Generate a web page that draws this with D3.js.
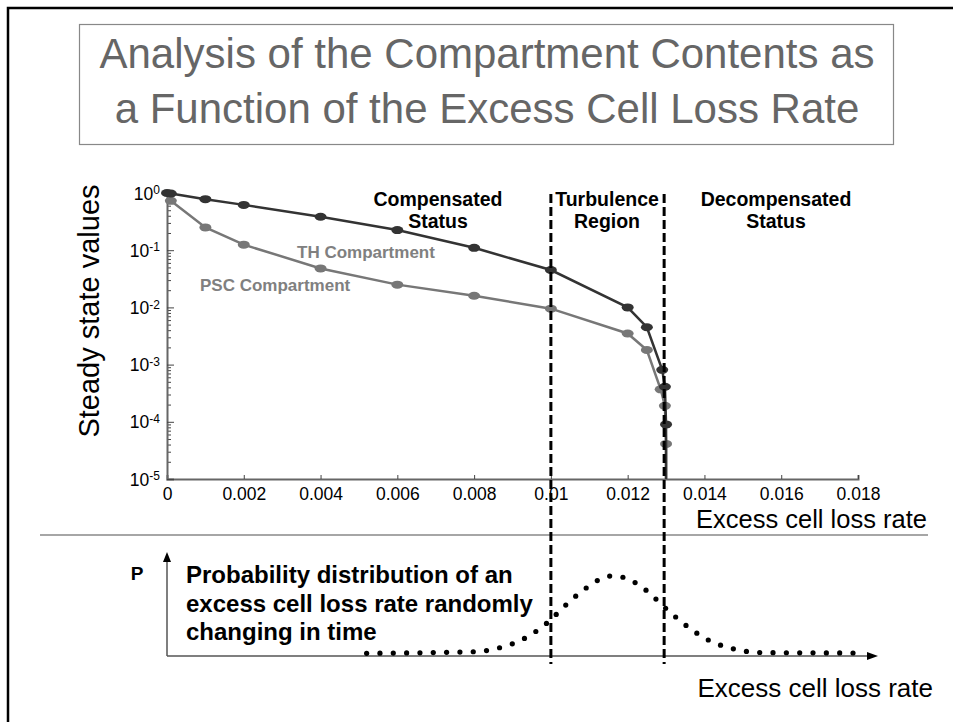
<!DOCTYPE html>
<html>
  <head>
    <title>Compartment Contents</title>
    <script src="https://d3js.org/d3.v7.min.js"></script>
    <style>
      body { margin: 0; background: #fff; }
      text { font-family: Arial, "Liberation Sans", sans-serif; }
      .bold { font-weight: bold; }
    </style>
  </head>
  <body>
    <svg id="main" width="953" height="722"></svg>
    <script>

      // axis ticks
      var xTicks = [0, 0.002, 0.004, 0.006, 0.008, 0.01, 0.012, 0.014, 0.016, 0.018];
      var xTickLabels = ["0", "0.002", "0.004", "0.006", "0.008", "0.01", "0.012", "0.014", "0.016", "0.018"];
      var yTicks = [1e-5, 1e-4, 1e-3, 1e-2, 1e-1, 1];
      var yTickExps = ["-5", "-4", "-3", "-2", "-1", "0"];

      // steady state values
      var thRates   = [0, 0.0001, 0.001, 0.002, 0.004, 0.006, 0.008, 0.010, 0.012, 0.0125, 0.0129, 0.01297, 0.0130, 0.0130];
      var thValues  = [1.0, 0.98, 0.78, 0.62, 0.385, 0.225, 0.11, 0.045, 0.010, 0.0045, 0.00081, 0.00041, 0.00009, 0.000001];
      var pscRates  = [0.0001, 0.001, 0.002, 0.004, 0.006, 0.008, 0.010, 0.012, 0.0125, 0.01286, 0.01297, 0.0130, 0.0130];
      var pscValues = [0.73, 0.25, 0.125, 0.048, 0.025, 0.016, 0.0095, 0.0035, 0.0018, 0.00037, 0.00019, 0.000041, 0.000001];

      // region borders
      var borderRates = [0.010, 0.01295];

      // probability distribution sketch
      var distRates = [0.0052, 0.0080, 0.00867, 0.00932, 0.00989, 0.01039, 0.01093, 0.01156, 0.01188, 0.01247, 0.01299, 0.01353, 0.0141, 0.01477, 0.01544, 0.01787];
      var distP     = [0.027, 0.043, 0.083, 0.177, 0.327, 0.51, 0.683, 0.80, 0.787, 0.66, 0.477, 0.303, 0.16, 0.07, 0.035, 0.03];

      var svg = d3.select('#main');

      var x = d3.scaleLinear().domain([0, 0.018]).range([167, 858]);
      var y = d3.scaleLog().domain([1e-5, 1]).range([479, 193]);
      var yP = d3.scaleLinear().domain([0, 1]).range([656, 556]);

      // frame (top + left only)
      svg.append('path')
        .attr('d', 'M8,722 V8 H953')
        .attr('fill', 'none')
        .attr('stroke', '#000')
        .attr('stroke-width', 2.5);

      // title box
      svg.append('rect')
        .attr('x', 79.5).attr('y', 24.5)
        .attr('width', 814).attr('height', 120)
        .attr('fill', 'none')
        .attr('stroke', '#888')
        .attr('stroke-width', 1.2);

      var titleLines = ['Analysis of the Compartment Contents as', 'a Function of the Excess Cell Loss Rate'];
      svg.selectAll('.title')
        .data(titleLines)
        .enter()
        .append('text')
        .attr('class', 'title')
        .attr('x', 487)
        .attr('y', function(d, i) { return 68 + i * 55; })
        .attr('text-anchor', 'middle')
        .style('font-size', '42px')
        .style('fill', '#666')
        .text(function(d) { return d; });

      // ----- upper chart -----
      var xAxis = d3.axisBottom(x)
        .tickValues(xTicks)
        .tickSize(-4)
        .tickPadding(9)
        .tickFormat(function(d, i) { return xTickLabels[i]; });

      var gx = svg.append('g')
        .attr('transform', 'translate(0,479)')
        .call(xAxis);
      gx.select('.domain').attr('stroke', '#666').attr('stroke-width', 2);
      gx.selectAll('.tick line').attr('stroke', '#444');
      gx.selectAll('.tick text')
        .style('font-size', '17.5px')
        .style('font-family', 'Arial, "Liberation Sans", sans-serif')
        .attr('fill', '#000');

      var minorTicks = [];
      for (var e = -5; e < 0; e++) {
        for (var k = 2; k <= 9; k++) minorTicks.push(k * Math.pow(10, e));
      }

      var gyMinor = svg.append('g')
        .attr('transform', 'translate(167,0)')
        .call(d3.axisLeft(y).tickValues(minorTicks).tickSize(-4).tickFormat(''));
      gyMinor.select('.domain').remove();
      gyMinor.selectAll('.tick line').attr('stroke', '#444');

      var gy = svg.append('g')
        .attr('transform', 'translate(167,0)')
        .call(d3.axisLeft(y).tickValues(yTicks).tickSize(-7).tickPadding(9).tickFormat(''));
      gy.select('.domain').attr('stroke', '#666').attr('stroke-width', 2);
      gy.selectAll('.tick line').attr('stroke', '#444');
      gy.selectAll('.tick text').remove();
      gy.selectAll('.tick')
        .append('text')
        .attr('x', -7)
        .attr('dy', '0.35em')
        .attr('text-anchor', 'end')
        .attr('fill', '#000')
        .style('font-size', '17.5px')
        .each(function(d, i) {
          var t = d3.select(this);
          t.append('tspan').text('10');
          t.append('tspan')
            .attr('dy', '-0.45em')
            .style('font-size', '12px')
            .text(yTickExps[i]);
        });

      svg.append('text')
        .attr('transform', 'translate(99,311) rotate(-90)')
        .attr('text-anchor', 'middle')
        .style('font-size', '29px')
        .text('Steady state values');

      svg.append('text')
        .attr('x', 927).attr('y', 528)
        .attr('text-anchor', 'end')
        .style('font-size', '25.5px')
        .text('Excess cell loss rate');

      // clip so curves fall through the axis at the end
      svg.append('clipPath').attr('id', 'plotClip')
        .append('rect').attr('x', 100).attr('y', 150).attr('width', 800).attr('height', 329);

      var plot = svg.append('g').attr('clip-path', 'url(#plotClip)');

      var series = [
        { rates: pscRates, values: pscValues, color: '#777777' },
        { rates: thRates, values: thValues, color: '#333333' }
      ];

      var line = d3.line()
        .x(function(d) { return x(d[0]); })
        .y(function(d) { return y(d[1]); });

      series.forEach(function(s) {
        var pts = d3.zip(s.rates, s.values);
        plot.append('path')
          .datum(pts)
          .attr('d', line)
          .attr('fill', 'none')
          .attr('stroke', s.color)
          .attr('stroke-width', 2.5);
        plot.selectAll(null)
          .data(pts)
          .enter()
          .append('ellipse')
          .attr('cx', function(d) { return x(d[0]); })
          .attr('cy', function(d) { return y(d[1]); })
          .attr('rx', 6)
          .attr('ry', 4)
          .attr('fill', s.color);
      });

      svg.append('text')
        .attr('class', 'bold')
        .attr('x', 297).attr('y', 258)
        .style('font-size', '17px')
        .style('fill', '#808080')
        .text('TH Compartment');

      svg.append('text')
        .attr('class', 'bold')
        .attr('x', 200).attr('y', 291)
        .style('font-size', '17px')
        .style('fill', '#808080')
        .text('PSC Compartment');

      var regionLabels = [
        { cx: 438, lines: ['Compensated', 'Status'] },
        { cx: 607, lines: ['Turbulence', 'Region'] },
        { cx: 776, lines: ['Decompensated', 'Status'] }
      ];
      regionLabels.forEach(function(r) {
        r.lines.forEach(function(txt, i) {
          svg.append('text')
            .attr('class', 'bold')
            .attr('x', r.cx)
            .attr('y', 206 + i * 22)
            .attr('text-anchor', 'middle')
            .style('font-size', '19.5px')
            .text(txt);
        });
      });

      // separator
      svg.append('line')
        .attr('x1', 40).attr('x2', 928)
        .attr('y1', 535).attr('y2', 535)
        .attr('stroke', '#888')
        .attr('stroke-width', 1.5);

      // ----- lower sketch -----
      var x0 = x(0), yBase = yP(0);
      svg.append('line')
        .attr('x1', x0).attr('x2', x0)
        .attr('y1', yBase).attr('y2', 562)
        .attr('stroke', '#555').attr('stroke-width', 1.5);
      svg.append('path')
        .attr('d', 'M' + x0 + ',552 l-4,10 h8 z')
        .attr('fill', '#000');
      svg.append('line')
        .attr('x1', x0).attr('x2', 868)
        .attr('y1', yBase).attr('y2', yBase)
        .attr('stroke', '#555').attr('stroke-width', 1.5);
      svg.append('path')
        .attr('d', 'M878,' + yBase + ' l-11,-4 v8 z')
        .attr('fill', '#000');

      svg.append('text')
        .attr('class', 'bold')
        .attr('x', 137).attr('y', 580)
        .attr('text-anchor', 'middle')
        .style('font-size', '19px')
        .text('P');

      var probLines = ['Probability distribution of an', 'excess cell loss rate randomly', 'changing in time'];
      probLines.forEach(function(txt, i) {
        svg.append('text')
          .attr('class', 'bold')
          .attr('x', 186)
          .attr('y', 583 + i * 28.7)
          .style('font-size', '24px')
          .text(txt);
      });

      var distLine = d3.line()
        .x(function(d) { return x(d[0]); })
        .y(function(d) { return yP(d[1]); })
        .curve(d3.curveMonotoneX);

      // invisible guide path, dots placed at equal arc length along it
      var distPath = svg.append('path')
        .datum(d3.zip(distRates, distP))
        .attr('d', distLine)
        .attr('fill', 'none')
        .attr('stroke', 'none');
      var node = distPath.node();
      var len = node.getTotalLength();
      var nDots = Math.round(len / 13.4);
      var dotPos = d3.range(nDots + 1).map(function(i) {
        return node.getPointAtLength(len * i / nDots);
      });
      svg.selectAll('.dot')
        .data(dotPos)
        .enter()
        .append('circle')
        .attr('class', 'dot')
        .attr('cx', function(p) { return p.x; })
        .attr('cy', function(p) { return p.y; })
        .attr('r', 2.6)
        .attr('fill', '#000');

      svg.append('text')
        .attr('x', 933).attr('y', 697)
        .attr('text-anchor', 'end')
        .style('font-size', '26px')
        .text('Excess cell loss rate');

      // dashed region borders across both panels
      svg.selectAll('.border')
        .data(borderRates)
        .enter()
        .append('line')
        .attr('class', 'border')
        .attr('x1', function(d) { return x(d); })
        .attr('x2', function(d) { return x(d); })
        .attr('y1', 194).attr('y2', 664)
        .attr('stroke', '#000')
        .attr('stroke-width', 3)
        .attr('stroke-dasharray', '9 4');

    </script>
  </body>
</html>
